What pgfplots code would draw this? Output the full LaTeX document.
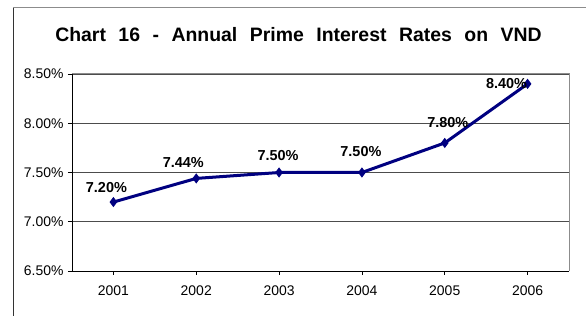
\documentclass[border=0pt]{standalone}
\usepackage{pgfplots}
\pgfplotsset{compat=1.18}
\usepackage{pgfplotstable}
\usepackage{fontspec}
\setmainfont{Liberation Sans}
\definecolor{navyline}{RGB}{0,0,128}

\pgfplotstableread{
x y dx dy
1 7.20 -7 15
2 7.44 -13 16
3 7.50 -1 17
4 7.50 -1 21
5 7.80 3 20
6 8.40 -21 0
}\rates

\begin{document}
\begin{tikzpicture}
\path[use as bounding box] (0bp,0bp) rectangle (587bp,316bp);
\draw[line width=1bp, black!80] (13bp,0bp) -- (13bp,308.5bp);
\draw[line width=1bp, black!45] (13bp,308.5bp) -- (586bp,308.5bp);
\node[font=\bfseries\fontsize{19.5}{21}\selectfont, anchor=base, inner sep=0pt] at (298.5bp,274bp)
  {\spaceskip=12.5bp\relax Chart 16 - Annual Prime Interest Rates on VND};
\begin{axis}[
  at={(72bp,45bp)}, anchor=south west,
  scale only axis, width=497bp, height=197bp,
  xmin=0.5, xmax=6.5, ymin=6.5, ymax=8.5,
  xtick={1,2,3,4,5,6},
  xticklabels={2001,2002,2003,2004,2005,2006},
  ytick={6.5,7,7.5,8,8.5},
  yticklabels={6.50\%,7.00\%,7.50\%,8.00\%,8.50\%},
  tick pos=left, tick align=outside, major tick length=4bp,
  tick style={black, line width=0.8bp},
  ticklabel style={font=\fontsize{14}{15}\selectfont},
  yticklabel style={xshift=-1bp},
  xticklabel style={yshift=-7bp},
  ymajorgrids, grid style={black!70, line width=0.8bp},
  axis line style={draw=none},
  clip=false,
  /pgf/number format/assume math mode=true,
]
\draw[black!45, line width=1bp] (rel axis cs:0,1) -- (rel axis cs:1,1) -- (rel axis cs:1,0);
\draw[black, line width=1bp] (rel axis cs:0,1) -- (rel axis cs:0,0) -- (rel axis cs:1,0);
\addplot[navyline, line width=3bp, mark=diamond*, mark size=4.3bp,
  mark options={solid, fill=navyline, line width=1bp},
  point meta=explicit,
  visualization depends on={\thisrow{dx} \as \dxv},
  visualization depends on={\thisrow{dy} \as \dyv},
  nodes near coords={\pgfmathprintnumber[fixed,fixed zerofill,precision=2,assume math mode=true]{\pgfplotspointmeta}\%},
  every node near coord/.append style={anchor=center, black, font=\bfseries\fontsize{14.5}{16}\selectfont, xshift=\dxv bp, yshift=\dyv bp, inner sep=0pt},
] table[x=x, y=y, meta=y] {\rates};
\end{axis}
\end{tikzpicture}
\end{document}
